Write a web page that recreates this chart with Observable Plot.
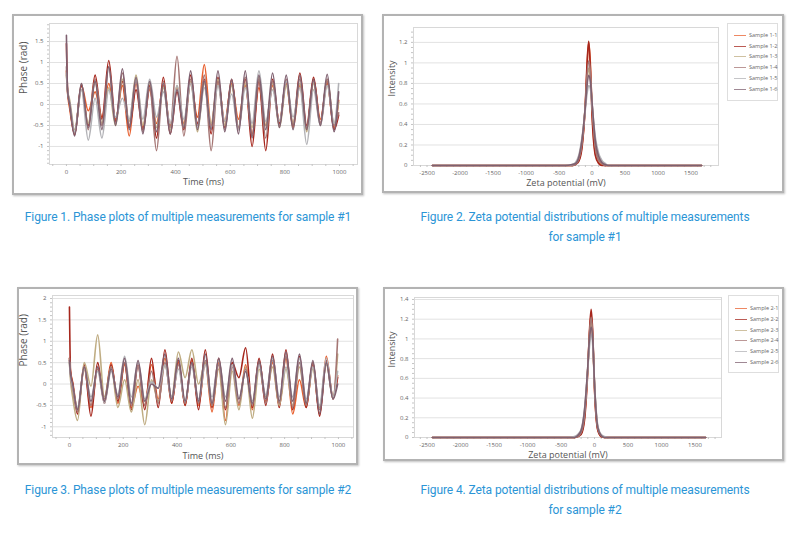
<!DOCTYPE html>
<html><head><meta charset="utf-8">
<script src="https://cdn.jsdelivr.net/npm/d3@7"></script>
<script src="https://cdn.jsdelivr.net/npm/@observablehq/plot@0.6"></script>
<style>
body{margin:0;background:#fff;}
#root{position:relative;width:800px;height:536px;overflow:hidden;font-family:Roboto,sans-serif;}
.frame{position:absolute;border:2px solid #b3b3b3;box-shadow:1px 1px 2px rgba(0,0,0,0.25);background:#fff;box-sizing:border-box;}
.frame svg{position:absolute;left:0;top:0;}
.cap{position:absolute;color:#2b95d6;font-size:12px;text-align:center;line-height:20px;letter-spacing:-0.1px;}
.legend{position:absolute;border:1px solid #dedede;background:#fff;font-family:"Open Sans",sans-serif;font-size:5.5px;color:#666;box-sizing:border-box;}
.legend .row{position:absolute;left:6px;height:8px;line-height:8px;white-space:nowrap;}
.legend .sw{display:inline-block;width:12px;height:0;border-top:1.2px solid;vertical-align:middle;margin-right:3px;opacity:0.75;}
</style></head>
<body><div id="root"></div>
<script>
// ---------- data ----------
const colors = ["#e8602f", "#a6261c", "#bfac82", "#a57674", "#b2b2b6", "#7f6070"];
const names1 = ["Sample 1-1","Sample 1-2","Sample 1-3","Sample 1-4","Sample 1-5","Sample 1-6"];
const names2 = ["Sample 2-1","Sample 2-2","Sample 2-3","Sample 2-4","Sample 2-5","Sample 2-6"];

const phaseT = [0,4,12,30,55,80,105,130,155,180,205,230,255,280,305,330,355,380,405,430,455,480,505,530,555,580,605,630,655,680,705,730,755,780,805,830,855,880,905,930,955,980,997];

const phase1 = [
 [0.8,0.3,-0.1,-0.7,0.45,-0.15,0.3,-0.3,0.5,-0.35,0.45,-0.75,0.5,-0.55,0.35,-0.45,0.45,-0.5,0.4,-0.45,0.5,-0.3,0.95,-0.5,0.55,-0.4,0.5,-0.35,0.45,-0.7,0.4,-0.5,0.45,-0.4,0.5,-0.55,0.45,-0.6,0.6,-0.35,0.5,-0.55,0.1],
 [1.45,0.4,0.0,-0.72,0.45,-0.5,0.7,-0.35,1.05,-0.4,0.55,-0.55,0.35,-0.6,0.45,-0.8,0.65,-0.7,0.3,-0.6,0.7,-0.45,0.6,-0.7,0.65,-0.55,0.6,-0.6,0.6,-1.0,0.55,-1.1,0.6,-0.45,0.55,-0.5,0.75,-0.5,0.65,-0.45,0.55,-0.6,-0.25],
 [0.7,0.35,0.1,-0.6,0.35,-0.45,0.55,-0.45,0.4,-0.5,0.6,-0.4,0.7,-0.5,0.5,-0.55,0.4,-0.6,0.45,-0.5,0.55,-0.65,0.5,-0.45,0.6,-0.5,0.45,-0.55,0.5,-0.55,0.65,-0.5,0.5,-0.55,0.45,-0.45,0.5,-0.65,0.5,-0.5,0.6,-0.45,0.05],
 [0.9,0.3,0.0,-0.7,0.5,-0.6,0.6,-0.5,0.9,-0.45,0.75,-0.5,0.55,-0.65,0.4,-1.1,0.55,-0.55,1.15,-0.75,0.6,-0.5,0.7,-1.1,0.55,-0.6,0.55,-0.55,0.65,-0.75,0.6,-0.8,0.55,-0.5,0.6,-0.5,0.6,-0.55,0.55,-0.45,0.6,-0.5,-0.2],
 [0.75,0.35,0.05,-0.65,0.35,-0.85,0.15,-0.8,0.35,-0.3,0.15,-0.35,0.6,-0.35,0.6,-0.3,0.3,-0.45,0.45,-0.35,0.5,-0.55,0.4,-0.55,0.45,-0.4,0.25,-0.6,0.4,-0.45,0.8,-0.4,0.35,-0.4,0.55,-0.3,0.4,-0.95,0.35,-0.5,0.45,-0.45,0.5],
 [1.65,0.35,0.0,-0.75,0.5,-0.55,0.55,-0.6,0.9,-0.5,0.85,-0.6,0.65,-0.7,0.55,-0.65,0.5,-0.7,0.35,-0.55,0.8,-0.6,0.55,-0.6,0.8,-0.65,0.6,-0.7,0.8,-0.8,0.7,-0.6,0.75,-0.55,0.7,-0.6,0.7,-0.6,0.6,-0.5,0.72,-0.65,0.3]
];

const phase2 = [
 [0.6,0.3,0.05,-0.6,0.35,-0.55,0.35,-0.4,0.5,-0.45,0.45,-0.55,-0.05,-0.5,0.45,-0.35,0.6,-0.45,0.5,-0.5,0.55,-0.5,0.5,-0.65,0.5,-0.85,0.5,-0.5,0.45,-0.6,0.55,-0.4,0.5,-0.5,0.6,-0.7,0.1,-0.55,0.45,-0.7,0.65,-0.35,0.2],
 [1.8,0.3,0.0,-0.7,0.45,-0.75,0.5,-0.45,0.45,-0.4,0.5,-0.6,0.45,-0.6,0.6,-0.55,0.8,-0.45,0.55,-0.5,0.6,-0.6,0.8,-0.55,0.6,-0.6,0.5,0.15,0.85,-0.55,0.6,-0.5,0.7,-0.55,0.8,-0.6,0.65,-0.55,0.5,-0.75,0.55,-0.3,0.15],
 [0.5,0.1,-0.3,-0.85,0.5,-0.05,1.15,-0.3,0.4,-0.55,0.1,-0.65,0.1,-0.95,0.1,-0.4,0.45,-0.3,0.75,0.15,0.8,0.0,0.5,-0.5,0.35,-0.95,0.3,-0.6,0.4,-0.8,0.35,-0.3,0.4,-0.5,0.35,-0.5,0.4,-0.45,0.35,-0.55,0.45,-0.3,0.7],
 [0.6,0.2,-0.1,-0.65,0.4,-0.5,0.4,-0.35,0.4,-0.35,0.5,-0.5,0.4,-0.5,0.3,-0.45,0.5,-0.4,0.45,-0.45,0.5,-0.45,0.55,-0.5,0.45,-0.55,0.4,-0.45,0.35,-0.5,0.5,-0.45,0.55,-0.45,0.65,-0.55,0.5,-0.5,0.5,-0.6,0.5,-0.35,1.05],
 [0.5,0.2,-0.05,-0.55,0.35,-0.3,0.3,-0.45,0.3,-0.25,0.65,-0.3,0.5,-0.35,0.05,-0.1,0.45,-0.3,0.35,-0.4,0.4,-0.35,0.45,-0.3,0.55,-0.3,0.45,-0.35,0.3,-0.4,0.45,-0.25,0.6,-0.3,0.4,-0.3,0.6,-0.35,0.4,-0.5,0.6,-0.3,0.3],
 [0.55,0.25,0.0,-0.6,0.4,-0.4,0.4,-0.4,0.35,-0.3,0.6,-0.45,0.55,-0.4,0.0,-0.1,0.7,-0.35,0.6,-0.4,0.5,-0.4,0.7,-0.45,0.6,-0.4,0.6,-0.35,0.3,-0.45,0.55,-0.35,0.65,-0.4,0.75,-0.4,0.7,-0.45,0.55,-0.7,0.5,-0.35,0.0]
];

const zetaX = [-2420,-400,-300,-250,-200,-150,-100,-75,-50,-25,0,50,100,150,200,250,1660];
const zeta1 = [
 [0,0,0,0.01,0.05,0.2,0.6,0.95,1.2,1.0,0.55,0.12,0.03,0.01,0,0,0],
 [0,0,0,0.01,0.04,0.18,0.62,1.0,1.21,0.95,0.5,0.1,0.02,0,0,0,0],
 [0,0,0,0.02,0.07,0.25,0.6,0.82,0.95,0.85,0.6,0.2,0.06,0.02,0.01,0,0],
 [0,0,0,0.01,0.06,0.22,0.6,0.88,1.02,0.92,0.62,0.18,0.05,0.02,0,0,0],
 [0,0,0.01,0.03,0.1,0.28,0.55,0.7,0.78,0.75,0.6,0.28,0.12,0.05,0.02,0,0],
 [0,0,0.01,0.02,0.08,0.26,0.58,0.78,0.88,0.82,0.62,0.24,0.09,0.03,0.01,0,0]
];
const zeta2 = [
 [0,0,0,0.01,0.04,0.2,0.7,1.05,1.25,1.0,0.5,0.08,0.01,0,0,0,0],
 [0,0,0,0.01,0.03,0.17,0.68,1.08,1.3,1.05,0.5,0.07,0.01,0,0,0,0],
 [0,0,0,0.02,0.06,0.25,0.7,1.0,1.18,0.98,0.55,0.1,0.02,0,0,0,0],
 [0,0,0,0.01,0.05,0.22,0.72,1.05,1.22,1.02,0.55,0.09,0.02,0,0,0,0],
 [0,0,0.01,0.03,0.08,0.28,0.7,0.92,1.05,0.92,0.55,0.12,0.03,0.01,0,0,0],
 [0,0,0,0.02,0.07,0.27,0.72,1.0,1.12,0.98,0.55,0.1,0.02,0,0,0,0]
];

const timeTicks = [0,200,400,600,800,1000];
const phaseTicks1 = [-1,-0.5,0,0.5,1,1.5];
const phaseTicks2 = [-1,-0.5,0,0.5,1,1.5,2];
const zetaTicks = [-2500,-2000,-1500,-1000,-500,0,500,1000,1500];
const intTicks1 = [0,0.2,0.4,0.6,0.8,1,1.2];
const intTicks2 = [0,0.2,0.4,0.6,0.8,1,1.2,1.4];
const captions = [
 "Figure 1. Phase plots of multiple measurements for sample #1",
 ["Figure 2. Zeta potential distributions of multiple measurements","for sample #1"],
 "Figure 3. Phase plots of multiple measurements for sample #2",
 ["Figure 4. Zeta potential distributions of multiple measurements","for sample #2"]
];

// ---------- drawing ----------
const root = document.getElementById("root");
const fmt = d => String(d);

function chart({xs, series, names, w, h, m, xd, yd, xTicks, yTicks, xMinor, yMinor, xLabel, yLabel, xLabDy, yLabDx, xLabSize, yLabSize}) {
  const data = names.flatMap((n, i) => xs.map((x, j) => ({s: n, x, v: series[i][j]})));
  return Plot.plot({
    width: w, height: h,
    marginLeft: m[0], marginRight: m[1], marginTop: m[2], marginBottom: m[3],
    x: {domain: xd}, y: {domain: yd},
    color: {domain: names, range: colors},
    style: {fontFamily: "Open Sans, sans-serif", fontSize: "6px", color: "#666", background: "#fff", overflow: "visible"},
    marks: [
      Plot.gridY(yTicks, {stroke: "#e2e2e2", strokeOpacity: 1}),
      Plot.frame({stroke: "#d8d8d8"}),
      Plot.axisY(yMinor, {tickSize: 2, text: null, stroke: "#c4c4c4", label: null}),
      Plot.axisX(xMinor, {tickSize: 2, text: null, stroke: "#c4c4c4", label: null}),
      Plot.axisY(yTicks, {tickSize: 0, tickPadding: 6, tickFormat: fmt, label: null, fill: "#666"}),
      Plot.axisX(xTicks, {tickSize: 0, tickPadding: 5, tickFormat: fmt, label: null, fill: "#666"}),
      Plot.line(data, {x: "x", y: "v", z: "s", stroke: "s", curve: "monotone-x", strokeWidth: 1.6}),
      Plot.text([xLabel], {text: d => d, frameAnchor: "bottom", dy: xLabDy, fontSize: xLabSize, fill: "#555"}),
      Plot.text([yLabel], {text: d => d, frameAnchor: "left", dx: yLabDx, rotate: -90, fontSize: yLabSize, fill: "#555"})
    ]
  });
}

function frame(left, top, width, height, svg) {
  const d = document.createElement("div");
  d.className = "frame";
  Object.assign(d.style, {left: left + "px", top: top + "px", width: width + "px", height: height + "px"});
  d.appendChild(svg);
  root.appendChild(d);
}

function legend(left, top, width, height, names, y0, dy) {
  const d = document.createElement("div");
  d.className = "legend";
  Object.assign(d.style, {left: left + "px", top: top + "px", width: width + "px", height: height + "px"});
  names.forEach((n, i) => {
    const r = document.createElement("div");
    r.className = "row";
    r.style.top = (y0 + i * dy) + "px";
    r.innerHTML = `<span class="sw" style="border-color:${colors[i]}"></span>${n}`;
    d.appendChild(r);
  });
  root.appendChild(d);
}

function caption(cx, top, width, text) {
  const d = document.createElement("div");
  d.className = "cap";
  Object.assign(d.style, {left: (cx - width / 2) + "px", top: top + "px", width: width + "px"});
  d.innerHTML = Array.isArray(text) ? text.join("<br>") : text;
  root.appendChild(d);
}

const minorT = d3.range(-50, 1051, 50);
const minorZ = d3.range(-2600, 1801, 100);

frame(12, 14, 351, 181, chart({
  xs: phaseT, series: phase1, names: names1, w: 347, h: 177, m: [35, 4, 7, 29],
  xd: [-62, 1066], yd: [-1.43, 1.93], xTicks: timeTicks, yTicks: phaseTicks1,
  xMinor: minorT, yMinor: d3.range(-1.4, 1.95, 0.1),
  xLabel: "Time (ms)", yLabel: "Phase (rad)", xLabDy: 20, yLabDx: -26, xLabSize: 9, yLabSize: 10
}));

frame(382, 14, 402, 179, chart({
  xs: zetaX, series: zeta1, names: names1, w: 398, h: 175, m: [29, 64, 11, 26],
  xd: [-2705, 1917], yd: [0, 1.345], xTicks: zetaTicks, yTicks: intTicks1,
  xMinor: minorZ, yMinor: d3.range(0, 1.35, 0.05),
  xLabel: "Zeta potential (mV)", yLabel: "Intensity", xLabDy: 20, yLabDx: -21, xLabSize: 9, yLabSize: 9
}));

frame(17, 287, 341, 178, chart({
  xs: phaseT, series: phase2, names: names2, w: 337, h: 174, m: [33, 3, 6, 26],
  xd: [-63, 1056], yd: [-1.25, 2.07], xTicks: timeTicks, yTicks: phaseTicks2,
  xMinor: minorT, yMinor: d3.range(-1.2, 2.05, 0.1),
  xLabel: "Time (ms)", yLabel: "Phase (rad)", xLabDy: 21, yLabDx: -29, xLabSize: 9, yLabSize: 10
}));

frame(383, 287, 401, 174, chart({
  xs: zetaX, series: zeta2, names: names2, w: 397, h: 170, m: [29, 61, 8, 22],
  xd: [-2687, 1896], yd: [0, 1.42], xTicks: zetaTicks, yTicks: intTicks2,
  xMinor: minorZ, yMinor: d3.range(0, 1.42, 0.05),
  xLabel: "Zeta potential (mV)", yLabel: "Intensity", xLabDy: 20, yLabDx: -22, xLabSize: 9, yLabSize: 9
}));

legend(727, 23, 51, 78, names1, 7, 10.7);
legend(728, 295, 51, 78, names2, 8, 10.8);

caption(188, 207, 380, captions[0]);
caption(585, 207, 380, captions[1]);
caption(188, 480, 380, captions[2]);
caption(585, 480, 380, captions[3]);
</script>
</body></html>
